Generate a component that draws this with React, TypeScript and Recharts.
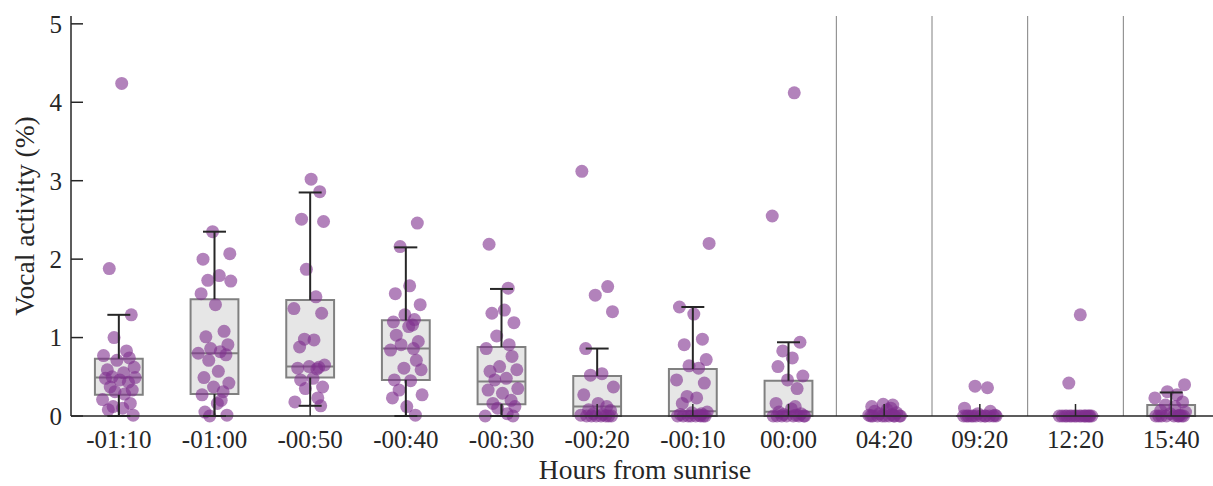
import {
  ComposedChart,
  Scatter,
  XAxis,
  YAxis,
  ReferenceArea,
  ReferenceLine,
  Label,
} from "recharts"

const categories = ["-01:10", "-01:00", "-00:50", "-00:40", "-00:30", "-00:20", "-00:10", "00:00", "04:20", "09:20", "12:20", "15:40"]

// vocal activity (%) per session
const s0110 = [4.24, 1.88, 1.29, 1.0, 0.83, 0.77, 0.74, 0.71, 0.62, 0.59, 0.55, 0.5, 0.49, 0.48, 0.46, 0.43, 0.37, 0.33, 0.31, 0.28, 0.21, 0.16, 0.12, 0.1, 0.08, 0.01]
const s0100 = [2.35, 2.07, 2.0, 1.79, 1.73, 1.72, 1.56, 1.42, 1.08, 1.01, 0.91, 0.86, 0.82, 0.8, 0.78, 0.71, 0.57, 0.49, 0.42, 0.37, 0.31, 0.27, 0.2, 0.16, 0.05, 0.01, 0]
const s0050 = [3.02, 2.86, 2.51, 2.48, 1.87, 1.52, 1.37, 1.31, 0.98, 0.97, 0.88, 0.65, 0.63, 0.62, 0.61, 0.6, 0.48, 0.46, 0.37, 0.35, 0.23, 0.18, 0.13]
const s0040 = [2.46, 2.16, 1.66, 1.56, 1.42, 1.29, 1.23, 1.2, 1.16, 1.14, 1.03, 0.95, 0.91, 0.86, 0.84, 0.71, 0.61, 0.59, 0.46, 0.45, 0.33, 0.27, 0.23, 0.12, 0.01]
const s0030 = [2.19, 1.63, 1.35, 1.31, 1.19, 1.02, 0.91, 0.86, 0.76, 0.63, 0.59, 0.57, 0.48, 0.46, 0.35, 0.33, 0.29, 0.2, 0.16, 0.12, 0.1, 0.03, 0, 0]
const s0020 = [3.12, 1.65, 1.54, 1.33, 0.86, 0.54, 0.52, 0.37, 0.27, 0.16, 0.12, 0.08, 0.07, 0.03, 0.02, 0.01, 0, 0, 0, 0, 0, 0, 0]
const s0010 = [2.2, 1.39, 1.3, 0.98, 0.91, 0.72, 0.64, 0.61, 0.46, 0.42, 0.25, 0.23, 0.16, 0.05, 0.04, 0.03, 0.02, 0.01, 0, 0, 0, 0, 0, 0, 0, 0]
const s0000 = [4.12, 2.55, 0.94, 0.83, 0.74, 0.63, 0.51, 0.46, 0.35, 0.16, 0.12, 0.09, 0.05, 0.03, 0.02, 0.01, 0, 0, 0, 0, 0, 0, 0, 0]
const s0420 = [0.15, 0.14, 0.12, 0.1, 0.08, 0.06, 0.04, 0.03, 0.02, 0.01, 0, 0, 0, 0, 0, 0, 0, 0, 0, 0]
const s0920 = [0.38, 0.36, 0.1, 0.06, 0.03, 0.01, 0, 0, 0, 0, 0, 0, 0, 0, 0, 0, 0, 0]
const s1220 = [1.29, 0.42, 0, 0, 0, 0, 0, 0, 0, 0, 0, 0, 0, 0, 0, 0, 0, 0]
const s1540 = [0.4, 0.31, 0.27, 0.23, 0.18, 0.14, 0.12, 0.07, 0.05, 0.03, 0.01, 0, 0, 0, 0, 0, 0, 0, 0, 0]

const sessions = [s0110, s0100, s0050, s0040, s0030, s0020, s0010, s0000, s0420, s0920, s1220, s1540]

// box plot statistics
const q1 = [0.27, 0.28, 0.49, 0.46, 0.15, 0, 0, 0, 0, 0, 0, 0]
const median = [0.49, 0.8, 0.63, 0.86, 0.44, 0.12, 0.06, 0.055, 0, 0, 0, 0]
const q3 = [0.73, 1.49, 1.48, 1.22, 0.88, 0.51, 0.6, 0.45, 0, 0, 0, 0.14]
const whiskerLow = [0, 0, 0.13, 0, 0, 0, 0, 0, 0, 0, 0, 0]
const whiskerHigh = [1.29, 2.35, 2.85, 2.15, 1.62, 0.86, 1.39, 0.94, 0, 0, 0, 0.3]

const yTicks = [0, 1, 2, 3, 4, 5]
const separators = [8.5, 9.5, 10.5, 11.5]

// fixed horizontal jitter (category units)
const JITTER = [0.03, -0.1, 0.13, -0.05, 0.08, -0.16, 0.11, -0.02, 0.16, -0.12, 0.05, -0.07, 0.17, -0.14, 0.01, 0.1, -0.09, 0.14, -0.04, 0.06, -0.17, 0.12, -0.06, 0.04, -0.11, 0.15, -0.01, 0.09, -0.13, 0.07]

const points = sessions.flatMap((vals, i) =>
  vals.map((y, j) => ({ x: i + 1 + JITTER[(j + i * 7) % JITTER.length], y }))
)

const AXIS = "#262626"
const BOX_EDGE = "#808080"
const FONT = "Liberation Serif"
const BOX_HALF = 0.25
const CAP_HALF = 0.12

const Dot = (props: any) => (
  <circle cx={props.cx} cy={props.cy} r={6.5} fill="#7E2F8E" fillOpacity={0.6} />
)

export default function App() {
  const idx = categories.map((_, i) => i)
  return (
    <div
      style={{
        position: "absolute",
        left: 0,
        top: 0,
        width: 1213,
        height: 486,
        overflow: "hidden",
        background: "#fff",
        fontFamily: "'Liberation Serif', serif",
      }}
    >
      <ComposedChart
        width={1230}
        height={486}
        margin={{ top: 16, right: 11, left: 11, bottom: 0 }}
        style={{ fontFamily: "'Liberation Serif', serif" }}
      >
        <XAxis
          dataKey="x"
          type="number"
          domain={[0.5, 12.5]}
          ticks={idx.map((i) => i + 1)}
          interval={0}
          tickFormatter={(v: number) => categories[v - 1] ?? ""}
          height={70}
          tickSize={-12}
          tickMargin={26.5}
          axisLine={{ stroke: AXIS, strokeWidth: 1.5 }}
          tickLine={{ stroke: AXIS, strokeWidth: 1.5 }}
          tick={{ fill: AXIS, fontSize: 25, fontFamily: FONT }}
        >
          <Label value="Hours from sunrise" position="insideBottom" offset={7} fill={AXIS} fontSize={27.5} fontFamily={FONT} />
        </XAxis>
        <XAxis
          xAxisId="top"
          orientation="top"
          dataKey="x"
          type="number"
          domain={[0.5, 12.5]}
          ticks={idx.map((i) => i + 1)}
          height={0}
          tickSize={-12}
          tick={false}
          axisLine={{ stroke: AXIS, strokeWidth: 1.5 }}
          tickLine={{ stroke: AXIS, strokeWidth: 1.5 }}
        />
        <YAxis
          type="number"
          domain={[0, 5.1]}
          ticks={yTicks}
          width={60}
          tickSize={-12}
          tickMargin={21}
          axisLine={{ stroke: AXIS, strokeWidth: 1.5 }}
          tickLine={{ stroke: AXIS, strokeWidth: 1.5 }}
          tick={{ fill: AXIS, fontSize: 25, fontFamily: FONT }}
        >
          <Label value="Vocal activity (%)" angle={-90} position="insideLeft" offset={13} textAnchor="middle" fill={AXIS} fontSize={27.5} fontFamily={FONT} />
        </YAxis>
        <YAxis
          yAxisId="right"
          orientation="right"
          type="number"
          domain={[0, 5.1]}
          ticks={yTicks}
          width={0}
          tickSize={-12}
          tick={false}
          axisLine={{ stroke: AXIS, strokeWidth: 1.5 }}
          tickLine={{ stroke: AXIS, strokeWidth: 1.5 }}
        />

        {separators.map((x) => (
          <ReferenceLine key={`sep${x}`} x={x} stroke="#808080" strokeWidth={1} zIndex={50} />
        ))}

        {idx.map((i) =>
          q3[i] > q1[i] ? (
            <ReferenceArea
              key={`box${i}`}
              x1={i + 1 - BOX_HALF}
              x2={i + 1 + BOX_HALF}
              y1={q1[i]}
              y2={q3[i]}
              fill="#E6E6E6"
              fillOpacity={1}
              stroke={BOX_EDGE}
              strokeWidth={2}
              zIndex={100}
            />
          ) : null
        )}
        {idx.map((i) => (
          <ReferenceLine
            key={`med${i}`}
            segment={[{ x: i + 1 - BOX_HALF, y: median[i] }, { x: i + 1 + BOX_HALF, y: median[i] }]}
            stroke={BOX_EDGE}
            strokeWidth={2}
            zIndex={150}
          />
        ))}

        <Scatter data={points} dataKey="y" shape={Dot} isAnimationActive={false} zIndex={450} />

        {idx.map((i) =>
          whiskerHigh[i] > q3[i] ? (
            <ReferenceLine
              key={`wh${i}`}
              segment={[{ x: i + 1, y: q3[i] }, { x: i + 1, y: whiskerHigh[i] }]}
              stroke={AXIS}
              strokeWidth={2}
              zIndex={460}
            />
          ) : null
        )}
        {idx.map((i) =>
          whiskerHigh[i] > q3[i] ? (
            <ReferenceLine
              key={`ch${i}`}
              segment={[{ x: i + 1 - CAP_HALF, y: whiskerHigh[i] }, { x: i + 1 + CAP_HALF, y: whiskerHigh[i] }]}
              stroke={AXIS}
              strokeWidth={2}
              zIndex={460}
            />
          ) : null
        )}
        {idx.map((i) =>
          whiskerLow[i] < q1[i] ? (
            <ReferenceLine
              key={`wl${i}`}
              segment={[{ x: i + 1, y: whiskerLow[i] }, { x: i + 1, y: q1[i] }]}
              stroke={AXIS}
              strokeWidth={2}
              zIndex={460}
            />
          ) : null
        )}
        {idx.map((i) =>
          whiskerLow[i] < q1[i] ? (
            <ReferenceLine
              key={`cl${i}`}
              segment={[{ x: i + 1 - CAP_HALF, y: whiskerLow[i] }, { x: i + 1 + CAP_HALF, y: whiskerLow[i] }]}
              stroke={AXIS}
              strokeWidth={2}
              zIndex={460}
            />
          ) : null
        )}
      </ComposedChart>
    </div>
  )
}
